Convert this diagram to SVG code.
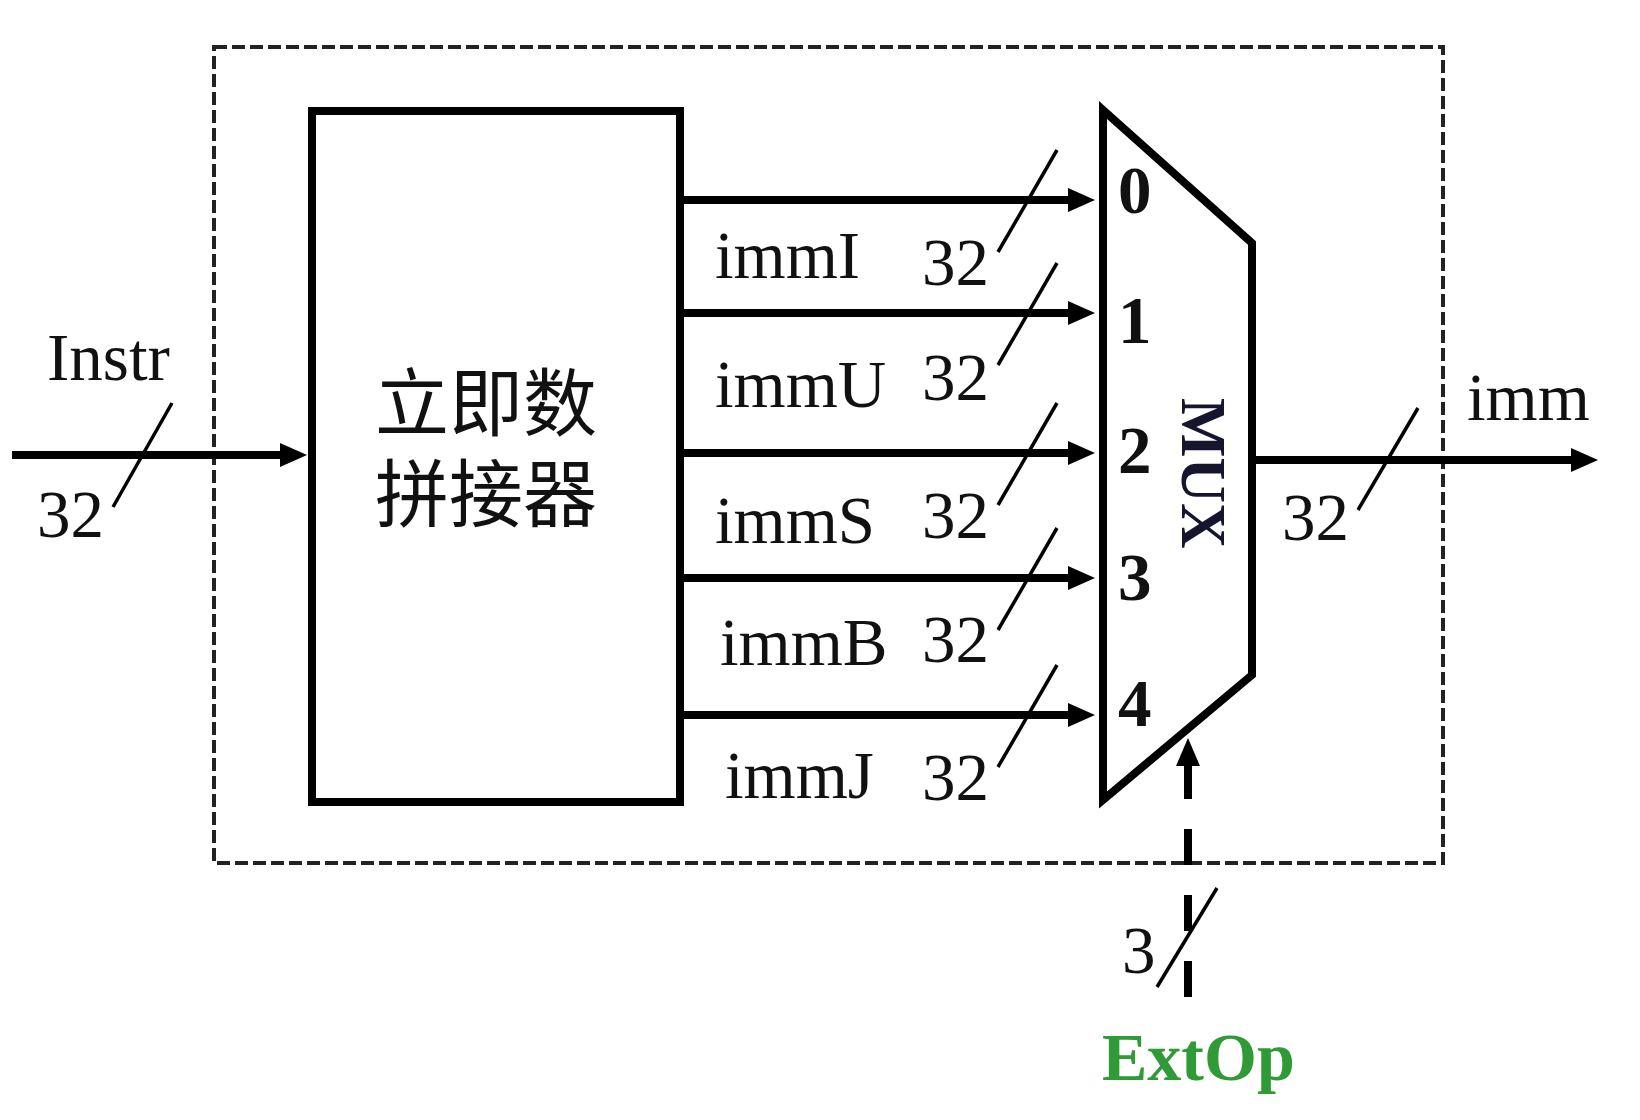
<svg xmlns="http://www.w3.org/2000/svg" width="1640" height="1120" viewBox="0 0 1640 1120">
<style>
.lbl{font-family:"Liberation Serif","Times New Roman",serif;font-size:67px;fill:#111}
.dig{font-family:"Liberation Serif","Times New Roman",serif;font-size:67px;font-weight:bold;fill:#111}
.cjk{font-family:"Liberation Serif","Noto Sans CJK SC",sans-serif;font-size:74px;fill:#111}
.wire{stroke:#000;stroke-width:8;fill:none}
.slash{stroke:#000;stroke-width:3.5;fill:none}
.frame{stroke:#222;stroke-width:4;fill:none;stroke-dasharray:13 5}
.blk{stroke:#000;stroke-width:8;fill:#fff;stroke-linejoin:miter}
</style>
<defs>
<marker id="ah" markerUnits="userSpaceOnUse" markerWidth="28" markerHeight="26" refX="7" refY="12" orient="auto">
<path d="M0,0 L27,12 L0,24 z" fill="#000"/>
</marker>
</defs>
<g id="frame"><rect x="214" y="47" width="1229" height="816" class="frame"/></g>
<g id="concat">
<rect x="312" y="111" width="368" height="691" class="blk"/>
<text class="cjk" x="486" y="430" text-anchor="middle">立即数</text>
<text class="cjk" x="486" y="521" text-anchor="middle">拼接器</text>
</g>
<g id="mux">
<polygon points="1103,110 1252,243 1252,675 1103,800" class="blk"/>
<text class="dig" x="1118" y="213">0</text>
<text class="dig" x="1118" y="343">1</text>
<text class="dig" x="1118" y="473">2</text>
<text class="dig" x="1118" y="600">3</text>
<text class="dig" x="1118" y="726">4</text>
<text transform="translate(1182,398) rotate(90)" style="font-family:'Liberation Serif','Times New Roman',serif;font-size:63px;font-weight:bold;fill:#15152e">MUX</text>
</g>
<g id="connectors">
<line x1="12" y1="455" x2="287" y2="455" class="wire" marker-end="url(#ah)"/>
<line x1="684" y1="200" x2="1075" y2="200" class="wire" marker-end="url(#ah)"/>
<line x1="684" y1="313" x2="1075" y2="313" class="wire" marker-end="url(#ah)"/>
<line x1="684" y1="453" x2="1075" y2="453" class="wire" marker-end="url(#ah)"/>
<line x1="684" y1="578" x2="1075" y2="578" class="wire" marker-end="url(#ah)"/>
<line x1="684" y1="715" x2="1075" y2="715" class="wire" marker-end="url(#ah)"/>
<line x1="1256" y1="460" x2="1578" y2="460" class="wire" marker-end="url(#ah)"/>
<line x1="1188" y1="997" x2="1188" y2="765" class="wire" stroke-dasharray="36 30"/>
<polygon points="1188,738 1176,766 1200,766" fill="#000"/>
<line x1="113" y1="507" x2="172" y2="403" class="slash"/>
<line x1="998" y1="252" x2="1057" y2="150" class="slash"/>
<line x1="998" y1="365" x2="1057" y2="263" class="slash"/>
<line x1="998" y1="505" x2="1057" y2="403" class="slash"/>
<line x1="998" y1="630" x2="1057" y2="528" class="slash"/>
<line x1="998" y1="767" x2="1057" y2="665" class="slash"/>
<line x1="1358" y1="510" x2="1418" y2="408" class="slash"/>
<line x1="1157" y1="987" x2="1217" y2="888" class="slash"/>
</g>
<g id="labels">
<text class="lbl" x="47" y="380">Instr</text>
<text class="lbl" x="37" y="537">32</text>
<text class="lbl" x="715" y="278">immI</text>
<text class="lbl" x="715" y="407">immU</text>
<text class="lbl" x="715" y="543">immS</text>
<text class="lbl" x="720" y="665">immB</text>
<text class="lbl" x="725" y="798">immJ</text>
<text class="lbl" x="922" y="285">32</text>
<text class="lbl" x="922" y="400">32</text>
<text class="lbl" x="922" y="538">32</text>
<text class="lbl" x="922" y="662">32</text>
<text class="lbl" x="922" y="800">32</text>
<text class="lbl" x="1467" y="420">imm</text>
<text class="lbl" x="1282" y="540">32</text>
<text class="lbl" x="1122" y="973">3</text>
<text x="1102" y="1080" style="font-family:'Liberation Serif','Times New Roman',serif;font-size:68px;font-weight:bold;fill:#2f9a36">ExtOp</text>
</g>
</svg>
